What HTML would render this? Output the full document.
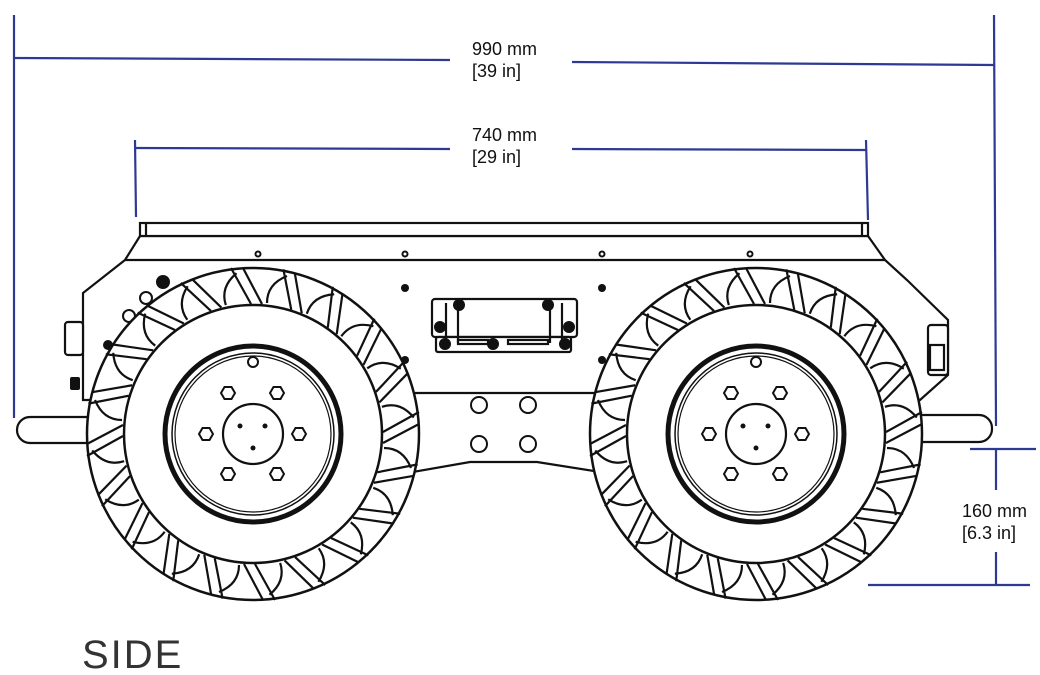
<!DOCTYPE html>
<html><head><meta charset="utf-8"><style>
html,body{margin:0;padding:0;background:#fff;width:1040px;height:675px;overflow:hidden}
svg{display:block}
text{font-family:"Liberation Sans","DejaVu Sans",sans-serif}
</style></head><body>
<svg width="1040" height="675" viewBox="0 0 1040 675" xmlns="http://www.w3.org/2000/svg">
<defs>
<g id="lug" fill="none" stroke="#111" stroke-width="2.2">
<line x1="130" y1="-2" x2="166" y2="-22"/>
<line x1="130" y1="9" x2="166" y2="-10"/>
<path d="M131 14 Q150 14 158 34"/>
</g>
<g id="hex"><polygon points="7,0 3.5,6 -3.5,6 -7,0 -3.5,-6 3.5,-6" fill="#fff" stroke="#111" stroke-width="2"/></g>
<g id="wheel">
<circle r="166" fill="#fff" stroke="#111" stroke-width="2.5"/>
<use href="#lug" transform="rotate(0)"/><use href="#lug" transform="rotate(18)"/><use href="#lug" transform="rotate(36)"/><use href="#lug" transform="rotate(54)"/><use href="#lug" transform="rotate(72)"/><use href="#lug" transform="rotate(90)"/><use href="#lug" transform="rotate(108)"/><use href="#lug" transform="rotate(126)"/><use href="#lug" transform="rotate(144)"/><use href="#lug" transform="rotate(162)"/><use href="#lug" transform="rotate(180)"/><use href="#lug" transform="rotate(198)"/><use href="#lug" transform="rotate(216)"/><use href="#lug" transform="rotate(234)"/><use href="#lug" transform="rotate(252)"/><use href="#lug" transform="rotate(270)"/><use href="#lug" transform="rotate(288)"/><use href="#lug" transform="rotate(306)"/><use href="#lug" transform="rotate(324)"/><use href="#lug" transform="rotate(342)"/>
<circle r="129" fill="#fff" stroke="#111" stroke-width="2.5"/>
<circle r="88" fill="none" stroke="#111" stroke-width="5"/>
<circle r="81" fill="none" stroke="#111" stroke-width="1.5"/>
<circle r="78" fill="none" stroke="#111" stroke-width="1.2"/>
<circle cx="0" cy="-72" r="5" fill="#fff" stroke="#111" stroke-width="2"/>
<circle r="30" fill="none" stroke="#111" stroke-width="2.2"/>
<circle cx="-13" cy="-8" r="2.5" fill="#111"/><circle cx="12" cy="-8" r="2.5" fill="#111"/><circle cx="0" cy="14" r="2.5" fill="#111"/>
<use href="#hex" x="-25" y="-41"/><use href="#hex" x="24" y="-41"/><use href="#hex" x="-47" y="0"/><use href="#hex" x="46" y="0"/><use href="#hex" x="-25" y="40"/><use href="#hex" x="24" y="40"/>
</g>
</defs>

<g fill="#fff" stroke="#111" stroke-width="2.2">
<rect x="17" y="417" width="90" height="26" rx="13"/>
<rect x="900" y="415" width="92" height="27" rx="13"/>
<path d="M140 236 L125 260 L83 293 L83 400 L920 400 L948 375 L948 320 L907 280 L885 260 L868 236 Z"/>
<line x1="125" y1="260" x2="885" y2="260"/>
<rect x="140" y="223" width="728" height="13"/>
<line x1="146" y1="223" x2="146" y2="236"/>
<line x1="862" y1="223" x2="862" y2="236"/>
<path d="M413 393 L600 393 L600 472 L537 462 L470 462 L413 472 Z"/>
<rect x="65" y="322" width="18" height="33" rx="3"/>
<rect x="928" y="325" width="20" height="50" rx="3"/>
<rect x="930" y="345" width="14" height="25"/>
<rect x="432" y="299" width="145" height="38" rx="3"/>
<rect x="436" y="337" width="135" height="15" rx="2"/>
<line x1="446" y1="303" x2="446" y2="346"/><line x1="458" y1="303" x2="458" y2="343"/>
<line x1="550" y1="303" x2="550" y2="343"/><line x1="562" y1="303" x2="562" y2="346"/>
<rect x="458" y="340" width="30" height="4"/><rect x="508" y="340" width="40" height="4"/>
</g>
<g fill="#111">
<circle cx="459" cy="305" r="6"/><circle cx="548" cy="305" r="6"/><circle cx="440" cy="327" r="6"/><circle cx="569" cy="327" r="6"/>
<circle cx="445" cy="344" r="6"/><circle cx="493" cy="344" r="6"/><circle cx="565" cy="344" r="6"/>
<circle cx="405" cy="288" r="4"/><circle cx="602" cy="288" r="4"/><circle cx="405" cy="360" r="4"/><circle cx="602" cy="360" r="4"/>
<rect x="70" y="377" width="10" height="13" rx="2"/>
<circle cx="163" cy="282" r="7"/><circle cx="108" cy="345" r="5"/>
</g>
<g fill="#fff" stroke="#111" stroke-width="2">
<circle cx="258" cy="254" r="2.5"/><circle cx="405" cy="254" r="2.5"/><circle cx="602" cy="254" r="2.5"/><circle cx="750" cy="254" r="2.5"/>
<circle cx="146" cy="298" r="6"/><circle cx="129" cy="316" r="6"/>
<circle cx="479" cy="405" r="8"/><circle cx="528" cy="405" r="8"/><circle cx="479" cy="444" r="8"/><circle cx="528" cy="444" r="8"/>
</g>

<use href="#wheel" transform="translate(253,434)"/>
<use href="#wheel" transform="translate(756,434)"/>

<g stroke="#2e3a92" stroke-width="2.2" fill="none">
<line x1="14" y1="15" x2="14" y2="418"/>
<line x1="994" y1="15" x2="996" y2="426"/>
<line x1="14" y1="58" x2="450" y2="60"/>
<line x1="572" y1="62" x2="994" y2="65"/>
<line x1="135" y1="140" x2="136" y2="217"/>
<line x1="866" y1="140" x2="868" y2="220"/>
<line x1="135" y1="148" x2="450" y2="149"/>
<line x1="572" y1="149" x2="866" y2="150"/>
<line x1="970" y1="449" x2="1036" y2="449"/>
<line x1="868" y1="585" x2="1030" y2="585"/>
<line x1="996" y1="449" x2="996" y2="490"/>
<line x1="996" y1="552" x2="996" y2="585"/>
</g>
<g fill="#111" font-size="18">
<text x="472" y="55">990 mm</text><text x="472" y="77">[39 in]</text>
<text x="472" y="141">740 mm</text><text x="472" y="163">[29 in]</text>
<text x="962" y="517">160 mm</text><text x="962" y="539">[6.3 in]</text>
</g>
<text x="82" y="668" font-size="40" fill="#333" letter-spacing="2">SIDE</text>
</svg>
</body></html>
